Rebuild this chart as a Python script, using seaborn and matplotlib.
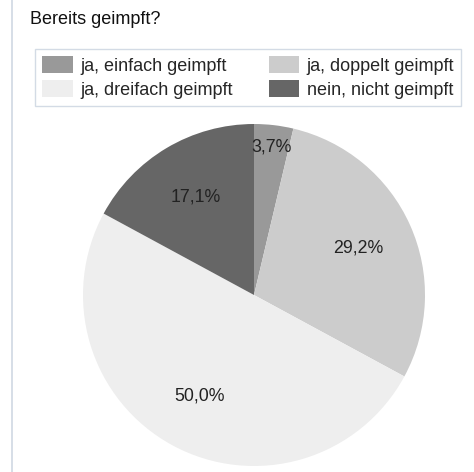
import matplotlib
matplotlib.use("Agg")
import matplotlib.pyplot as plt
import seaborn as sns
import numpy as np

# data
categories = ["ja, einfach geimpft", "ja, doppelt geimpft", "ja, dreifach geimpft", "nein, nicht geimpft"]
shares = [3.7, 29.2, 50.0, 17.1]
colors = ["#999999", "#cccccc", "#eeeeee", "#666666"]
title = "Bereits geimpft?"

sns.set_theme(style="white")
plt.rcParams["font.family"] = ["Liberation Sans", "DejaVu Sans"]

W, H = 474, 472
fig = plt.figure(figsize=(W / 100, H / 100), dpi=100)

# pie axes: centre (254, 295) px, radius 171 px
cx, cy, r = 254, 295, 171
ax = fig.add_axes([(cx - r) / W, (H - cy - r) / H, 2 * r / W, 2 * r / H])

wedges, texts, autotexts = ax.pie(
    shares, colors=colors, startangle=90, counterclock=False,
    autopct=lambda p: f"{p:.1f}%".replace(".", ","), pctdistance=0.67,
    wedgeprops=dict(linewidth=0), textprops=dict(fontsize=12.8, color="#222222"),
)
# small slice label pushed outward
for w, t, v in zip(wedges, autotexts, shares):
    if v < 5:
        ang = np.deg2rad((w.theta1 + w.theta2) / 2)
        t.set_position((0.87 * np.cos(ang), 0.87 * np.sin(ang)))
ax.set_xlim(-1, 1)
ax.set_ylim(-1, 1)
ax.set_aspect("equal")
ax.axis("off")

fig.text(30 / W, 1 - 20 / H, title, fontsize=13, va="center", ha="left", color="#111111")

# legend filled row by row
order = [0, 2, 1, 3]
leg = fig.legend(
    [wedges[i] for i in order], [categories[i] for i in order], ncol=2, loc="upper left",
    bbox_to_anchor=(35 / W, 1 - 49 / H), fontsize=13,
    frameon=True, fancybox=False, edgecolor="#c9d3df",
    handlelength=1.7, handleheight=1.05, columnspacing=2.0, handletextpad=0.4,
    labelspacing=0.3, borderpad=0.4, borderaxespad=0,
)
leg.get_frame().set_linewidth(1)

# left border line
fig.add_artist(plt.Line2D([12 / W, 12 / W], [0, 1], color="#cfd8e3", linewidth=1.2))

fig.savefig("out.png", dpi=100)
